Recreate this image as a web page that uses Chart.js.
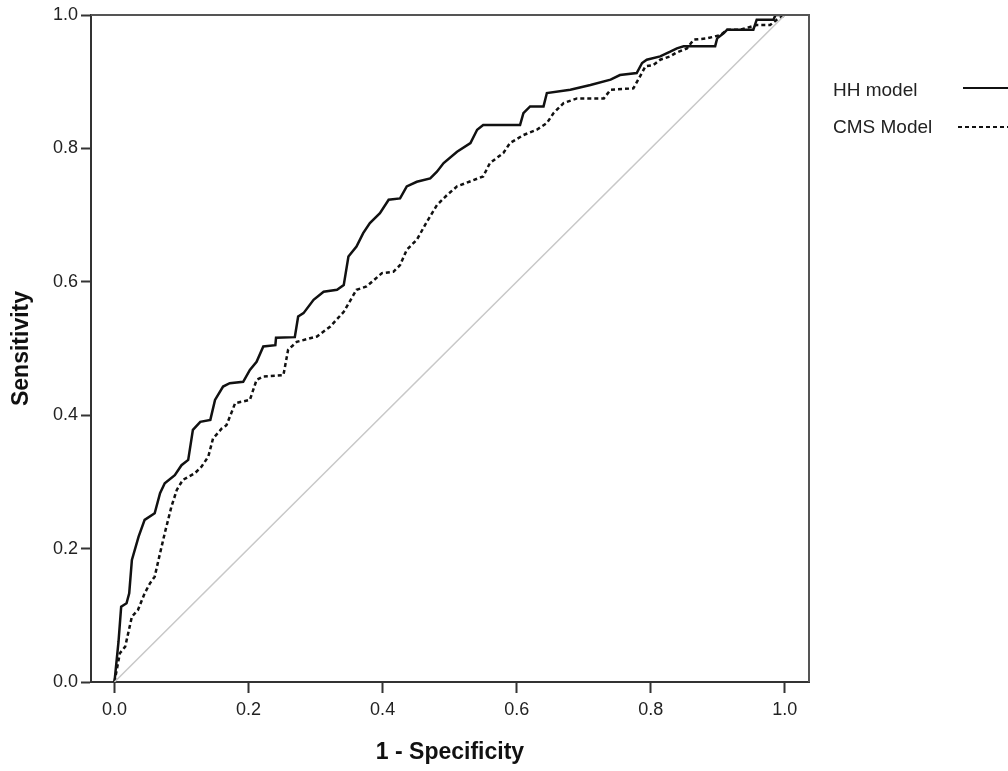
<!DOCTYPE html>
<html>
<head>
<meta charset="utf-8">
<script src="https://cdn.jsdelivr.net/npm/chart.js@4.4.1/dist/chart.umd.min.js"></script>
<style>
  html, body { margin: 0; padding: 0; background: #fff; }
  #wrap { width: 1008px; height: 771px; }
</style>
</head>
<body>
<div id="wrap"><canvas id="roc" width="1008" height="771"></canvas></div>
<script>
// ROC points (1 - specificity, sensitivity)
var hhFpr = [0, 0.006, 0.010, 0.018, 0.022, 0.026, 0.036, 0.045, 0.060, 0.068, 0.075, 0.090, 0.100, 0.110, 0.117, 0.128, 0.143, 0.150, 0.162, 0.172, 0.192, 0.202, 0.212, 0.222, 0.240, 0.241, 0.269, 0.274, 0.282, 0.297, 0.312, 0.332, 0.342, 0.349, 0.361, 0.371, 0.381, 0.396, 0.409, 0.426, 0.436, 0.451, 0.471, 0.481, 0.491, 0.511, 0.531, 0.541, 0.550, 0.605, 0.610, 0.620, 0.640, 0.645, 0.680, 0.710, 0.740, 0.754, 0.779, 0.787, 0.794, 0.814, 0.829, 0.839, 0.849, 0.896, 0.899, 0.909, 0.914, 0.953, 0.958, 0.983, 0.986, 1.0];
var hhTpr = [0, 0.060, 0.113, 0.118, 0.133, 0.183, 0.218, 0.243, 0.253, 0.283, 0.298, 0.310, 0.325, 0.333, 0.378, 0.390, 0.393, 0.423, 0.443, 0.448, 0.450, 0.468, 0.480, 0.503, 0.505, 0.516, 0.517, 0.548, 0.553, 0.573, 0.585, 0.588, 0.595, 0.638, 0.653, 0.673, 0.688, 0.703, 0.723, 0.725, 0.743, 0.750, 0.755, 0.765, 0.778, 0.795, 0.808, 0.828, 0.835, 0.835, 0.853, 0.863, 0.863, 0.883, 0.888, 0.895, 0.903, 0.910, 0.913, 0.928, 0.933, 0.938, 0.945, 0.950, 0.953, 0.953, 0.965, 0.973, 0.978, 0.978, 0.993, 0.993, 1.0, 1.0];
var cmsFpr = [0, 0.008, 0.016, 0.026, 0.035, 0.045, 0.053, 0.060, 0.068, 0.075, 0.085, 0.093, 0.102, 0.120, 0.130, 0.140, 0.147, 0.160, 0.167, 0.175, 0.180, 0.202, 0.212, 0.222, 0.252, 0.259, 0.272, 0.302, 0.322, 0.342, 0.361, 0.376, 0.399, 0.416, 0.426, 0.436, 0.451, 0.466, 0.481, 0.496, 0.511, 0.550, 0.560, 0.580, 0.590, 0.610, 0.630, 0.645, 0.655, 0.670, 0.690, 0.730, 0.740, 0.774, 0.784, 0.792, 0.804, 0.814, 0.829, 0.837, 0.854, 0.864, 0.884, 0.904, 0.914, 0.934, 0.958, 0.978, 0.988, 1.0];
var cmsTpr = [0, 0.043, 0.053, 0.098, 0.108, 0.133, 0.148, 0.158, 0.193, 0.223, 0.263, 0.288, 0.303, 0.313, 0.323, 0.338, 0.365, 0.380, 0.385, 0.405, 0.418, 0.423, 0.453, 0.458, 0.460, 0.498, 0.510, 0.518, 0.533, 0.555, 0.588, 0.593, 0.613, 0.615, 0.625, 0.648, 0.663, 0.690, 0.715, 0.730, 0.743, 0.758, 0.778, 0.793, 0.808, 0.820, 0.828, 0.838, 0.853, 0.868, 0.875, 0.875, 0.888, 0.890, 0.908, 0.923, 0.925, 0.933, 0.938, 0.943, 0.950, 0.963, 0.965, 0.970, 0.978, 0.978, 0.985, 0.985, 0.993, 1.0];
var refLine = [0, 1];
var xTicks = [0, 0.2, 0.4, 0.6, 0.8, 1.0];
var yTicks = [0, 0.2, 0.4, 0.6, 0.8, 1.0];
var seriesNames = ['HH model', 'CMS Model'];

function pts(xs, ys){
    var out = [];
    for (var i = 0; i < xs.length; i++) out.push({x: xs[i], y: ys[i]});
    return out;
}

// top/right frame + legend (label first, line sample after it)
var frameAndLegend = {
    id: 'frameAndLegend',
    afterDatasetsDraw: function(chart){
        var ctx = chart.ctx, a = chart.chartArea;
        ctx.save();
        ctx.strokeStyle = '#555';
        ctx.lineWidth = 2;
        ctx.beginPath();
        ctx.moveTo(a.left, a.top);
        ctx.lineTo(a.right, a.top);
        ctx.lineTo(a.right, a.bottom);
        ctx.stroke();
        ctx.restore();
    },
    afterDraw: function(chart){
        var ctx = chart.ctx;
        ctx.save();
        ctx.font = '19px "Liberation Sans", Arial, sans-serif';
        ctx.fillStyle = '#222';
        ctx.textBaseline = 'alphabetic';
        ctx.fillText(seriesNames[0], 833, 96);
        ctx.fillText(seriesNames[1], 833, 133);
        ctx.strokeStyle = '#111';
        ctx.lineWidth = 2;
        ctx.beginPath();
        ctx.moveTo(963, 88); ctx.lineTo(1008, 88);
        ctx.stroke();
        ctx.setLineDash([4, 3]);
        ctx.beginPath();
        ctx.moveTo(958, 127); ctx.lineTo(1008, 127);
        ctx.stroke();
        ctx.restore();
    }
};

var ctx = document.getElementById('roc').getContext('2d');
var chart = new Chart(ctx, {
    type: 'line',
    data: {
        datasets: [
            {
                label: 'ref',
                data: pts(refLine, refLine),
                borderColor: '#c8c8c8',
                borderWidth: 1.5,
                pointRadius: 0,
                tension: 0
            },
            {
                label: seriesNames[0],
                data: pts(hhFpr, hhTpr),
                borderColor: '#111',
                borderWidth: 2.5,
                pointRadius: 0,
                tension: 0
            },
            {
                label: seriesNames[1],
                data: pts(cmsFpr, cmsTpr),
                borderColor: '#111',
                borderWidth: 2.5,
                borderDash: [4, 3],
                pointRadius: 0,
                tension: 0
            }
        ]
    },
    options: {
        responsive: false,
        animation: false,
        events: [],
        layout: { padding: { top: 15, right: 199, bottom: 0, left: 0 } },
        plugins: { legend: { display: false }, tooltip: { enabled: false } },
        scales: {
            x: {
                type: 'linear',
                min: -0.035,
                max: 1.036,
                afterBuildTicks: function(s){ s.ticks = xTicks.map(function(v){ return {value: v}; }); },
                afterFit: function(s){ s.height = 89; },
                grid: { drawOnChartArea: false, drawTicks: true, tickLength: 11, tickColor: '#333', tickWidth: 2 },
                border: { display: true, color: '#333', width: 2 },
                ticks: {
                    padding: 6,
                    color: '#222',
                    font: { family: '"Liberation Sans", Arial, sans-serif', size: 18 },
                    callback: function(v){ return v.toFixed(1); }
                },
                title: {
                    display: true,
                    text: '1 - Specificity',
                    color: '#111',
                    padding: { top: 0, bottom: 5 },
                    font: { family: '"Liberation Sans", Arial, sans-serif', size: 23, weight: 'bold' }
                }
            },
            y: {
                type: 'linear',
                min: 0,
                max: 1,
                afterBuildTicks: function(s){ s.ticks = yTicks.map(function(v){ return {value: v}; }); },
                afterFit: function(s){ s.width = 91; },
                grid: { drawOnChartArea: false, drawTicks: true, tickLength: 10, tickColor: '#333', tickWidth: 2 },
                border: { display: true, color: '#333', width: 2 },
                ticks: {
                    padding: 3,
                    color: '#222',
                    font: { family: '"Liberation Sans", Arial, sans-serif', size: 18 },
                    callback: function(v){ return v.toFixed(1); }
                },
                title: {
                    display: true,
                    text: 'Sensitivity',
                    color: '#111',
                    padding: { top: 8, bottom: 0 },
                    font: { family: '"Liberation Sans", Arial, sans-serif', size: 23, weight: 'bold' }
                }
            }
        }
    },
    plugins: [frameAndLegend]
});
</script>
</body>
</html>
